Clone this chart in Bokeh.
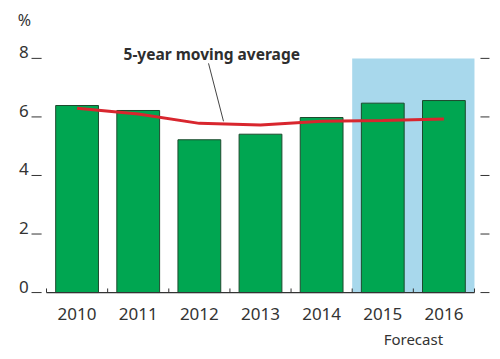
from bokeh.plotting import figure
from bokeh.models import Range1d, LinearAxis, FixedTicker
from bokeh.embed import file_html
from bokeh.resources import INLINE
from bokeh.core.properties import value

years = ["2010", "2011", "2012", "2013", "2014", "2015", "2016"]
growth = [6.39, 6.22, 5.22, 5.41, 5.98, 6.47, 6.56]
moving_avg = [6.30, 6.10, 5.78, 5.72, 5.85, 5.88, 5.93]
forecast_years = ["2015", "2016"]
forecast_top = 8
y_ticks = [0, 2, 4, 6, 8]
y_labels = ["0", "2", "4", "6", "8"]

FONT = "Noto Sans"
TXT = "#333333"

n = len(years)
centers = [i + 0.5 for i in range(n)]
bounds = list(range(n + 1))

p = figure(width=492, height=351,
           x_range=Range1d(-0.7524, 7.2947), y_range=Range1d(-0.1, 9.977),
           output_backend="svg", toolbar_location=None, y_axis_location=None,
           min_border_left=0, min_border_right=0,
           min_border_top=0, min_border_bottom=55)
p.outline_line_color = None
p.background_fill_color = "white"
p.xgrid.grid_line_color = None
p.ygrid.grid_line_color = None

# forecast shading
f0 = years.index(forecast_years[0])
f1 = years.index(forecast_years[-1]) + 1
p.quad(left=[f0], right=[f1], bottom=[0], top=[forecast_top],
       fill_color="#a8d8ec", line_color=None)

# bars
p.vbar(x=centers, top=growth, width=0.70, fill_color="#00a651",
       line_color="#1d4a2e", line_width=1)

# moving average
p.line(x=centers, y=moving_avg, line_color="#d8262e", line_width=3)

# x axis line and boundary ticks
p.segment(x0=[bounds[0]], y0=[0], x1=[bounds[-1]], y1=[0],
          line_color="#333333", line_width=1.3)
p.segment(x0=bounds, y0=[0] * len(bounds), x1=bounds, y1=[0.14] * len(bounds),
          line_color="#333333", line_width=1)

# y ticks left and right
p.segment(x0=[-0.245] * len(y_ticks), y0=y_ticks, x1=[-0.08] * len(y_ticks), y1=y_ticks,
          line_color="#333333", line_width=1)
p.segment(x0=[7.098] * len(y_ticks), y0=y_ticks, x1=[7.245] * len(y_ticks), y1=y_ticks,
          line_color="#333333", line_width=1)

# y tick labels
p.text(x=[-0.29] * len(y_ticks), y=y_ticks, text=y_labels, text_align="right",
       text_baseline="middle", text_font=value(FONT), text_font_size="17px",
       text_color=TXT, y_offset=-6)

p.text(x=[-0.47], y=[9.32], text=["%"], text_align="left", text_baseline="middle",
       text_font=value(FONT), text_font_size="16px", text_color=TXT)

p.text(x=[1.26], y=[8.15], text=["5-year moving average"], text_align="left",
       text_baseline="middle", text_font=value(FONT), text_font_size="15.5px",
       text_font_style="bold", text_color="#2e2e2e")

# leader line
p.segment(x0=[2.65], y0=[7.83], x1=[2.895], y1=[5.85],
          line_color="#444444", line_width=1)

# year labels (x axis)
xa = p.xaxis[0]
xa.ticker = FixedTicker(ticks=centers)
xa.major_label_overrides = {c: y for c, y in zip(centers, years)}
xa.axis_line_color = None
xa.major_tick_line_color = None
xa.minor_tick_line_color = None
xa.major_tick_out = 0
xa.major_tick_in = 0
xa.major_label_standoff = 12
xa.major_label_text_font = FONT
xa.major_label_text_font_size = "17px"
xa.major_label_text_color = TXT

# forecast label axis
fa = LinearAxis(ticker=FixedTicker(ticks=[float(f0 + 1)]),
                major_label_overrides={float(f0 + 1): "Forecast"})
fa.axis_line_color = None
fa.major_tick_line_color = None
fa.minor_tick_line_color = None
fa.major_tick_out = 0
fa.major_tick_in = 0
fa.major_label_standoff = 6
fa.major_label_text_font = FONT
fa.major_label_text_font_size = "15px"
fa.major_label_text_color = TXT
p.add_layout(fa, "below")

open("out.html", "w").write(file_html(p, INLINE))
